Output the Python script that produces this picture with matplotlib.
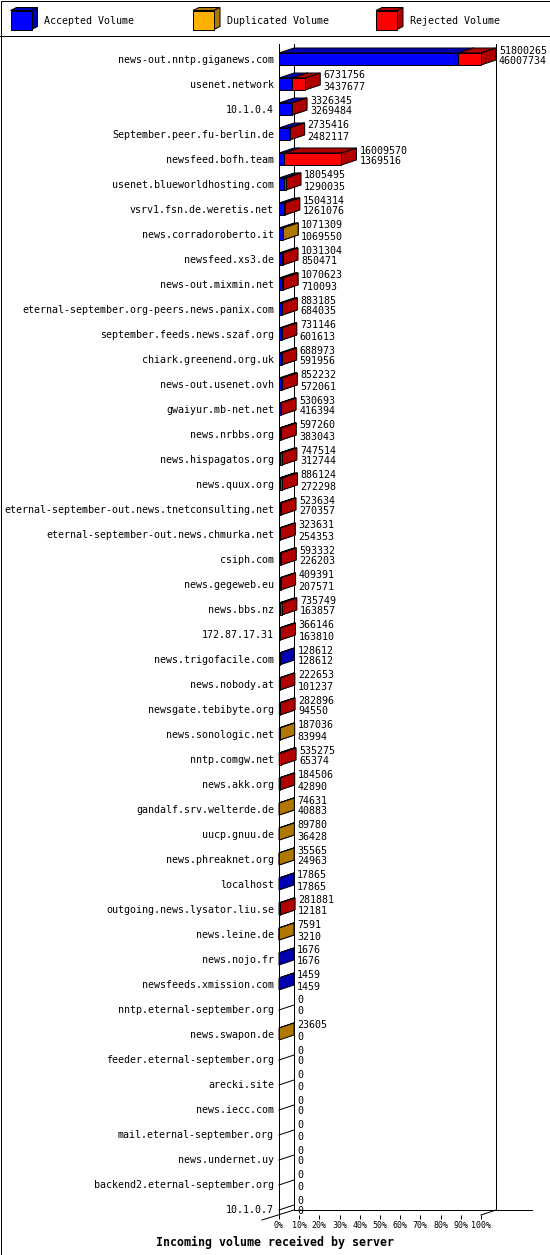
import numpy as np
import matplotlib
matplotlib.use("Agg")
import matplotlib.pyplot as plt
from matplotlib.patches import Polygon, Rectangle

plt.rcParams['font.family'] = ['DejaVu Sans Mono']

servers = [
    "news-out.nntp.giganews.com", "usenet.network", "10.1.0.4",
    "September.peer.fu-berlin.de", "newsfeed.bofh.team",
    "usenet.blueworldhosting.com", "vsrv1.fsn.de.weretis.net",
    "news.corradoroberto.it", "newsfeed.xs3.de", "news-out.mixmin.net",
    "eternal-september.org-peers.news.panix.com",
    "september.feeds.news.szaf.org", "chiark.greenend.org.uk",
    "news-out.usenet.ovh", "gwaiyur.mb-net.net", "news.nrbbs.org",
    "news.hispagatos.org", "news.quux.org",
    "eternal-september-out.news.tnetconsulting.net",
    "eternal-september-out.news.chmurka.net", "csiph.com",
    "news.gegeweb.eu", "news.bbs.nz", "172.87.17.31",
    "news.trigofacile.com", "news.nobody.at", "newsgate.tebibyte.org",
    "news.sonologic.net", "nntp.comgw.net", "news.akk.org",
    "gandalf.srv.welterde.de", "uucp.gnuu.de", "news.phreaknet.org",
    "localhost", "outgoing.news.lysator.liu.se", "news.leine.de",
    "news.nojo.fr", "newsfeeds.xmission.com", "nntp.eternal-september.org",
    "news.swapon.de", "feeder.eternal-september.org", "arecki.site",
    "news.iecc.com", "mail.eternal-september.org", "news.undernet.uy",
    "backend2.eternal-september.org", "10.1.0.7",
]
accepted = [
    46007734, 3437677, 3269484, 2482117, 1369516, 1290035, 1261076,
    1069550, 850471, 710093, 684035, 601613, 591956, 572061, 416394,
    383043, 312744, 272298, 270357, 254353, 226203, 207571, 163857,
    163810, 128612, 101237, 94550, 83994, 65374, 42890, 40883, 36428,
    24963, 17865, 12181, 3210, 1676, 1459, 0, 0, 0, 0, 0, 0, 0, 0, 0,
]
duplicated = [
    0, 0, 0, 0, 0, 0, 0,
    1759, 0, 0, 0, 0, 0, 0, 0,
    0, 0, 0, 0, 0, 0, 0, 0,
    0, 0, 0, 0, 103042, 0, 0, 33748, 53352,
    10602, 0, 0, 4381, 0, 0, 0, 23605, 0, 0, 0, 0, 0, 0, 0,
]
rejected = [
    5792531, 3294079, 56861, 253299, 14640054, 515460, 243238,
    0, 180833, 360530, 199150, 129533, 97017, 280171, 114299,
    214217, 434770, 613826, 253277, 69278, 367129, 201820, 571892,
    202336, 0, 121416, 188346, 0, 469901, 141616, 0, 0,
    0, 0, 269700, 0, 0, 0, 0, 0, 0, 0, 0, 0, 0, 0, 0,
]
series_names = ["Accepted Volume", "Duplicated Volume", "Rejected Volume"]
front_colors = ["#0000FF", "#FFB000", "#FF0000"]
side_colors = ["#0000B0", "#B07800", "#B00000"]
pct_ticks = [0, 10, 20, 30, 40, 50, 60, 70, 80, 90, 100]
title = "Incoming volume received by server"

W, H, DPI = 550, 1255, 100
LW = 0.72
fig = plt.figure(figsize=(W / DPI, H / DPI), dpi=DPI)
fig.patch.set_facecolor("white")

# frame / legend layer
bg = fig.add_axes([0, 0, 1, 1])
bg.set_xlim(0, W)
bg.set_ylim(H, 0)
bg.axis("off")
bg.add_patch(Rectangle((0.5, 0.5), W - 1, H - 1, fill=False, ec="black", lw=LW))
bg.plot([0, W], [35.5, 35.5], color="black", lw=LW)

leg_x = [10.5, 193, 376]
for k, name in enumerate(series_names):
    lx, ly, lw_, lh = leg_x[k], 10.5, 21, 19
    ddx, ddy = 6, -3
    bg.add_patch(Polygon([(lx, ly), (lx + lw_, ly), (lx + lw_ + ddx, ly + ddy), (lx + ddx, ly + ddy)],
                         closed=True, fc=side_colors[k], ec="black", lw=LW))
    bg.add_patch(Polygon([(lx + lw_, ly), (lx + lw_ + ddx, ly + ddy), (lx + lw_ + ddx, ly + lh + ddy),
                          (lx + lw_, ly + lh)], closed=True, fc=side_colors[k], ec="black", lw=LW))
    bg.add_patch(Rectangle((lx, ly), lw_, lh, fc=front_colors[k], ec="black", lw=LW))
    bg.text(lx + 34, 20.5, name, fontsize=7.2, va="center", ha="left")

# main chart axes
x0px, x1px = 279, 481
top_px, bot_px = 44, 1215
row_px = 25
n = len(servers)
ax = fig.add_axes([x0px / W, 1 - bot_px / H, (x1px - x0px) / W, (bot_px - top_px) / H])
ax.patch.set_alpha(0)
ytop = -15 / row_px
ybot = (n - 1) + 6 / row_px
ax.set_xlim(0, 1)
ax.set_ylim(ybot, ytop)
for s in ax.spines.values():
    s.set_visible(False)

dx = 15 / (x1px - x0px)
dy = -5 / row_px
half = 6 / row_px
gap = 3 / (x1px - x0px)

acc = np.array(accepted, dtype=float)
dup = np.array(duplicated, dtype=float)
rej = np.array(rejected, dtype=float)
totals = acc + dup + rej
maxv = totals.max()

# walls / floor
lkw = dict(color="black", lw=LW, clip_on=False, zorder=1)
ax.plot([0, 0], [ytop, ybot], **lkw)
ax.plot([dx, dx], [ytop, ybot + dy], **lkw)
ax.plot([1 + dx, 1 + dx], [ytop, ybot + dy], **lkw)
ax.plot([dx, (532 - x0px) / (x1px - x0px)], [ybot + dy, ybot + dy], **lkw)
ax.plot([-17 / (x1px - x0px), dx], [ybot - dy, ybot + dy], **lkw)
ax.plot([1, 1 + dx], [ybot, ybot + dy], **lkw)

z = 3
for i in range(n):
    start = 0.0
    for k, v in enumerate([acc[i], dup[i], rej[i]]):
        if v <= 0:
            continue
        s = start / maxv
        e = (start + v) / maxv
        start += v
        yt, yb = i - half, i + half
        pk = dict(closed=True, ec="black", lw=LW, clip_on=False, joinstyle="miter")
        ax.add_patch(Polygon([(s, yt), (e, yt), (e + dx, yt + dy), (s + dx, yt + dy)],
                             fc=side_colors[k], zorder=z, **pk))
        ax.add_patch(Polygon([(e, yt), (e + dx, yt + dy), (e + dx, yb + dy), (e, yb)],
                             fc=side_colors[k], zorder=z, **pk))
        ax.add_patch(Polygon([(s, yt), (e, yt), (e, yb), (s, yb)],
                             fc=front_colors[k], zorder=z, **pk))
        z += 1
    if totals[i] == 0:
        ax.plot([0, dx], [i + 0.04, i - 0.16], color="black", lw=LW, zorder=2, clip_on=False)
    xe = totals[i] / maxv + dx + gap
    ax.text(xe, i - 0.34, f"{int(totals[i])}", fontsize=7.2, va="center", ha="left", clip_on=False)
    ax.text(xe, i + 0.10, f"{int(acc[i])}", fontsize=7.2, va="center", ha="left", clip_on=False)

ax.set_xticks(np.array(pct_ticks) / 100)
ax.set_xticklabels([f"{p}%" for p in pct_ticks])
ax.tick_params(axis="x", length=2.9, width=LW, pad=1.2, labelsize=6, direction="out")
ax.set_yticks(range(n))
ax.set_yticklabels(servers)
ax.tick_params(axis="y", length=0, pad=3.6, labelsize=7.2)

fig.text(0.5, 1 - 1242 / H, title, ha="center", va="center", fontsize=8.4, fontweight="bold")

fig.savefig("out.png", dpi=DPI, facecolor="white")
